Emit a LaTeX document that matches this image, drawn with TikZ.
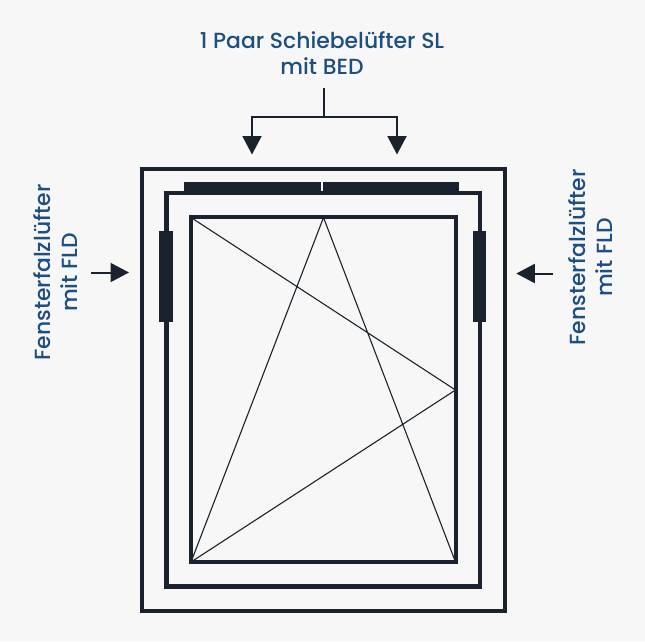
\documentclass[tikz,border=0pt]{standalone}
\usepackage{fontspec}
\setmainfont{Poppins Medium}
\usetikzlibrary{arrows.meta}
\definecolor{ink}{HTML}{1A232D}
\definecolor{labelblue}{HTML}{1D4F82}
\definecolor{paper}{HTML}{F7F7F7}
\tikzset{
  x=1pt, y=-1pt,
  framebox/.style={draw=ink, line width=4.3pt, fill=none, inner sep=0pt, outer sep=0pt, rectangle},
  ventbox/.style={fill=ink, draw=none, inner sep=0pt, outer sep=0pt, rectangle},
  sash/.style={draw=ink, line width=1.1pt},
  feed/.style={draw=ink, line width=2pt, -{Triangle[length=18.5pt,width=19pt]}},
  bracketline/.style={draw=ink, line width=2pt},
  caption/.style={text=labelblue, align=center, inner sep=0pt, font=\fontsize{21.9}{26.5}\selectfont},
}
\begin{document}
\begin{tikzpicture}
\useasboundingbox[fill=paper] (0,0) rectangle (645,641);
% frames
\node[framebox, minimum width=362.4pt, minimum height=442.3pt] (outer) at (323.5,389.85) {};
\node[framebox, minimum width=313.3pt, minimum height=393.5pt] (middle) at (323.15,389.75) {};
\node[framebox, minimum width=264.7pt, minimum height=344.7pt] (inner) at (323.35,389.65) {};
% top vent bars
\node[ventbox, minimum width=137pt, minimum height=10.5pt] (barL) at (252.5,186.95) {};
\node[ventbox, minimum width=136.2pt, minimum height=10.5pt] (barR) at (390.9,186.95) {};
% side vents
\node[ventbox, minimum width=13.7pt, minimum height=91.3pt] (ventL) at (166.15,276.65) {};
\node[ventbox, minimum width=13pt, minimum height=91pt] (ventR) at (479.5,276.5) {};
% sash lines
\coordinate (tl) at (191,217.5);
\coordinate (bl) at (191,562);
\coordinate (br) at (455.5,562);
\coordinate (tm) at (323.5,217.5);
\coordinate (rm) at (455.5,390);
\draw[sash] (tl) -- (rm) -- (bl) -- (tm) -- (br);
% top bracket
\coordinate (stem) at (324,88);
\coordinate (fork) at (324,116.7);
\coordinate (forkL) at (252,116.7);
\coordinate (forkR) at (397,116.7);
\coordinate (tipL) at (252,154.5);
\coordinate (tipR) at (397,154.5);
\draw[bracketline] (stem) -- (fork);
\draw[feed] (fork) -- (forkL) -- (tipL);
\draw[feed] (fork) -- (forkR) -- (tipR);
% side arrows
\coordinate (sideLs) at (91,272.5);
\coordinate (sideLe) at (129,272.5);
\coordinate (sideRs) at (553,273.5);
\coordinate (sideRe) at (516.3,273.5);
\draw[feed] (sideLs) -- (sideLe);
\draw[feed] (sideRs) -- (sideRe);
% labels
\node[caption, anchor=center] (top) at (322,53) {1 Paar Schiebelüfter SL\\mit BED};
\node[caption, rotate=90] (left) at (55.5,272.5) {Fensterfalzlüfter\\mit FLD};
\node[caption, rotate=90] (right) at (590.5,257.5) {Fensterfalzlüfter\\mit FLD};
\end{tikzpicture}
\end{document}
